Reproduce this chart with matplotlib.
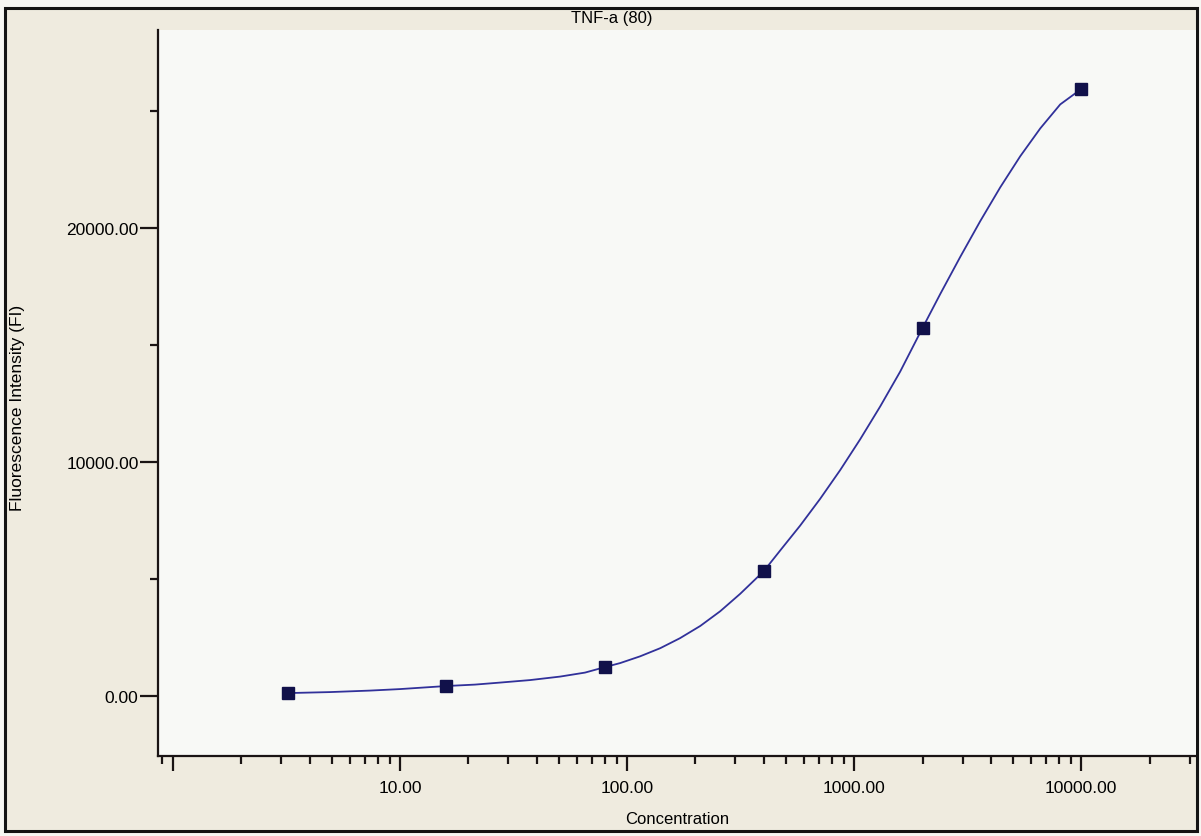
import numpy as np
import matplotlib.pyplot as plt
from matplotlib.patches import Rectangle
from matplotlib.ticker import LogLocator, FixedLocator, NullFormatter, MultipleLocator

plt.rcParams['font.family'] = ['Liberation Sans', 'DejaVu Sans']

# standards (5-fold dilution series) and their measured FI
conc = [3.2, 16, 80, 400, 2000, 10000]
fi = [128, 430, 1240, 5340, 15730, 25940]

# fitted standard curve, sampled along the concentration range
curve_conc = [3.2, 4.92, 7.38, 10.0, 16, 21.4, 27.6, 37.4, 50.7, 65.3, 80,
              93.2, 114, 140, 171, 210, 257, 315, 400, 477, 578, 708, 868,
              1063, 1302, 1594, 2000, 2393, 2931, 3591, 4398, 5387, 6598,
              8080, 10000]
curve_fi = [128, 171, 235, 299, 430, 491, 577, 684, 833, 1004, 1240,
            1410, 1697, 2047, 2474, 2996, 3624, 4372, 5340, 6274, 7282, 8427, 9658,
            10974, 12376, 13863, 15730, 17179, 18765, 20295, 21739, 23068, 24256,
            25282, 25940]

x_major = [1, 10, 100, 1000, 10000]
x_labels = ['', '10.00', '100.00', '1000.00', '10000.00']
y_major = [0, 10000, 20000]
y_labels = ['0.00', '10000.00', '20000.00']

W, H = 1201, 837
fig = plt.figure(figsize=(W / 100, H / 100), dpi=100, facecolor='#f7f7f3')

# page background with the printed frame
fig.patches.append(Rectangle((5 / W, 1 - 832 / H), 1192 / W, 823 / H,
                             transform=fig.transFigure, facecolor='#efebdf',
                             edgecolor='#141414', linewidth=2.2, zorder=-1))

ax = fig.add_axes([158 / W, 1 - 757 / H, 1038 / W, 726 / H])
ax.set_zorder(1)
ax.set_facecolor('#f8f9f6')

ax.plot(curve_conc, curve_fi, color='#31319a', linewidth=1.3, zorder=2)
ax.plot(conc, fi, linestyle='none', marker='s', markersize=8,
        color='#11114a', zorder=3)

ax.set_xscale('log')
ax.set_xlim(0.86, 32000)
ax.set_ylim(-2560, 28460)

ax.xaxis.set_major_locator(FixedLocator(x_major))
ax.set_xticklabels(x_labels)
ax.xaxis.set_minor_locator(LogLocator(base=10, subs=np.arange(2, 10)))
ax.xaxis.set_minor_formatter(NullFormatter())

ax.yaxis.set_major_locator(FixedLocator(y_major))
ax.set_yticklabels(y_labels)
ax.yaxis.set_minor_locator(MultipleLocator(5000))

for s in ('top', 'right'):
    ax.spines[s].set_visible(False)
for s in ('left', 'bottom'):
    ax.spines[s].set_linewidth(1.6)
    ax.spines[s].set_color('#1a1414')

ax.tick_params(axis='x', which='major', direction='out', length=11, width=1.6,
               pad=6, labelsize=12.5, color='#1a1414')
ax.tick_params(axis='x', which='minor', direction='out', length=5.5, width=1.6,
               color='#1a1414')
ax.tick_params(axis='y', which='major', direction='out', length=13, width=1.6,
               pad=1, labelsize=12.5, color='#1a1414')
ax.tick_params(axis='y', which='minor', direction='out', length=6, width=1.6,
               color='#1a1414')

fig.text(612 / W, 1 - 18 / H, 'TNF-a (80)', ha='center', va='center', fontsize=12)
fig.text(677 / W, 1 - 820 / H, 'Concentration', ha='center', va='center', fontsize=12)
fig.text(18 / W, 1 - 408 / H, 'Fluorescence Intensity (FI)', ha='center', va='center',
         rotation=90, fontsize=12.5)

fig.savefig('out.png', dpi=100, facecolor=fig.get_facecolor())
